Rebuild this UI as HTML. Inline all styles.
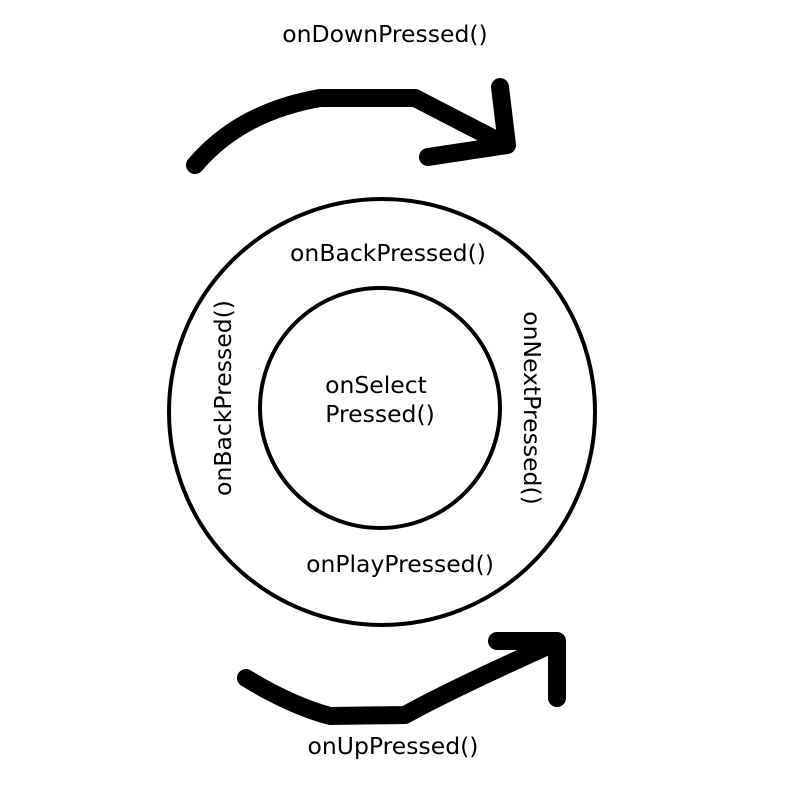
<!DOCTYPE html>
<html><head><style>body{margin:0;background:#fff}</style></head><body>
<svg width="800" height="800" viewBox="0 0 800 800" xmlns="http://www.w3.org/2000/svg">
<rect width="800" height="800" fill="#fff"/>
<g fill="none" stroke="#000" stroke-linecap="round" stroke-linejoin="round">
<circle cx="382" cy="412" r="213" stroke-width="4"/>
<circle cx="380" cy="408" r="120" stroke-width="4"/>
<g stroke-width="18">
<path d="M195,165 Q240,112 320,98 L415,98 L506,145"/>
<path d="M500,87 L507,145 L428,157"/>
<path d="M246,678 Q290,705 330,716 L405,715 Q450,690 550,645"/>
<path d="M497,641 L557,641 L557,698"/>
</g>
</g>
<g font-family="'DejaVu Sans','Liberation Sans',sans-serif" font-size="23.5" fill="#000" text-anchor="middle">
<text x="385" y="42">onDownPressed()</text>
<text x="388" y="261">onBackPressed()</text>
<text x="400" y="572">onPlayPressed()</text>
<text x="393" y="754">onUpPressed()</text>
<text x="376" y="393">onSelect</text>
<text x="380" y="422">Pressed()</text>
<text transform="translate(231,398) rotate(-90)">onBackPressed()</text>
<text transform="translate(524,408) rotate(90)">onNextPressed()</text>
</g>
</svg>
</body></html>
